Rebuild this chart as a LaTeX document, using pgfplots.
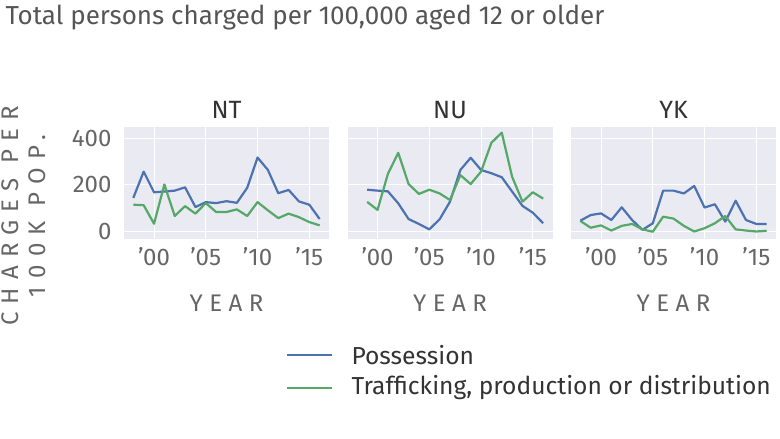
\documentclass[border=0pt]{standalone}
\usepackage{fontspec}
\setmainfont{Fira Sans}
\usepackage{pgfplots}
\pgfplotsset{compat=1.18}
\definecolor{possblue}{HTML}{4C72B0}
\definecolor{trafgreen}{HTML}{55A868}
\definecolor{panelbg}{HTML}{EAEAF2}
\definecolor{ticktext}{HTML}{666666}
\definecolor{titletext}{HTML}{555555}
\definecolor{darktext}{HTML}{333333}
\newcommand\spaced{\addfontfeature{LetterSpace=27}}
\newcommand\wide{\addfontfeature{LetterSpace=34}}

% charges per 100k, possession (blue) and trafficking (green)
\pgfplotstableread{
year poss traf
1998 145 116
1999 257 114
2000 169 35
2001 172 202
2002 176 68
2003 190 110
2004 106 78
2005 127 123
2006 123 85
2007 131 85
2008 124 96
2009 188 68
2010 317 127
2011 264 92
2012 165 59
2013 179 78
2014 130 63
2015 116 42
2016 55 28
}\ntdata
\pgfplotstableread{
year poss traf
1999 180 128
2000 176 94
2001 173 247
2002 122 337
2003 55 204
2004 34 162
2005 11 180
2006 54 164
2007 129 136
2008 264 242
2009 316 204
2010 264 257
2011 250 380
2012 233 423
2013 172 235
2014 111 129
2015 82 169
2016 37 142
}\nudata
\pgfplotstableread{
year poss traf
1998 48 47
1999 72 18
2000 79 28
2001 51 6
2002 105 26
2003 51 34
2004 9 11
2005 37 1
2006 176 65
2007 176 57
2008 164 26
2009 196 2
2010 104 16
2011 118 37
2012 44 68
2013 133 11
2014 51 6
2015 34 2
2016 34 5
}\ykdata

\pgfplotsset{
  facet/.style={
    scale only axis, width=205pt, height=112pt,
    xmin=1997.1, xmax=2016.9, ymin=-30, ymax=447,
    axis background/.style={fill=panelbg},
    axis line style={draw=none},
    major tick length=0pt,
    grid=major, major grid style={white, line width=1pt},
    xtick={2000,2005,2010,2015},
    xticklabels={'00,'05,'10,'15},
    ytick={0,200,400},
    /pgf/number format/assume math mode=true,
    tick label style={font=\fontsize{24}{24}\selectfont, text=ticktext},
    xticklabel style={yshift=-5pt},
    yticklabel style={xshift=-9pt},
    title style={at={(0.5,1)}, anchor=base, yshift=2pt,
      font=\fontsize{25}{25}\selectfont, text=darktext},
    xlabel={\spaced YEAR},
    xlabel style={font=\fontsize{24}{24}\selectfont, text=ticktext, yshift=-22pt},
    every axis plot/.append style={line width=2.2pt, mark=none, line join=round},
  }
}

\begin{document}
\begin{tikzpicture}[x=1pt,y=1pt]
\path[use as bounding box] (0,0) rectangle (780,439);

\begin{axis}[facet, at={(124pt,200pt)}, anchor=south west, title={NT}]
\addplot[possblue] table[x=year, y=poss] {\ntdata};
\addplot[trafgreen] table[x=year, y=traf] {\ntdata};
\end{axis}

\begin{axis}[facet, at={(347.5pt,200pt)}, anchor=south west, title={NU}, yticklabels={}]
\addplot[possblue] table[x=year, y=poss] {\nudata};
\addplot[trafgreen] table[x=year, y=traf] {\nudata};
\end{axis}

\begin{axis}[facet, at={(571pt,200pt)}, anchor=south west, title={YK}, yticklabels={}]
\addplot[possblue] table[x=year, y=poss] {\ykdata};
\addplot[trafgreen] table[x=year, y=traf] {\ykdata};
\end{axis}

\node[anchor=base west, font=\fontsize{26}{26}\selectfont, text=titletext] at (2,414) {Total persons charged per 100,000 aged 12 or older};

\node[rotate=90, align=center, font=\fontsize{24}{27}\selectfont\wide, text=ticktext] at (24,223) {CHARGES PER\\100K POP.};

\draw[possblue, line width=2.4pt] (287,84) -- (332,84);
\draw[trafgreen, line width=2.4pt] (287,51) -- (332,51);
\node[anchor=west, font=\fontsize{24.6}{25}\selectfont, text=darktext] at (348,84) {Possession};
\node[anchor=west, font=\fontsize{24.6}{25}\selectfont, text=darktext] at (348,51) {Trafficking, production or distribution};
\end{tikzpicture}
\end{document}
